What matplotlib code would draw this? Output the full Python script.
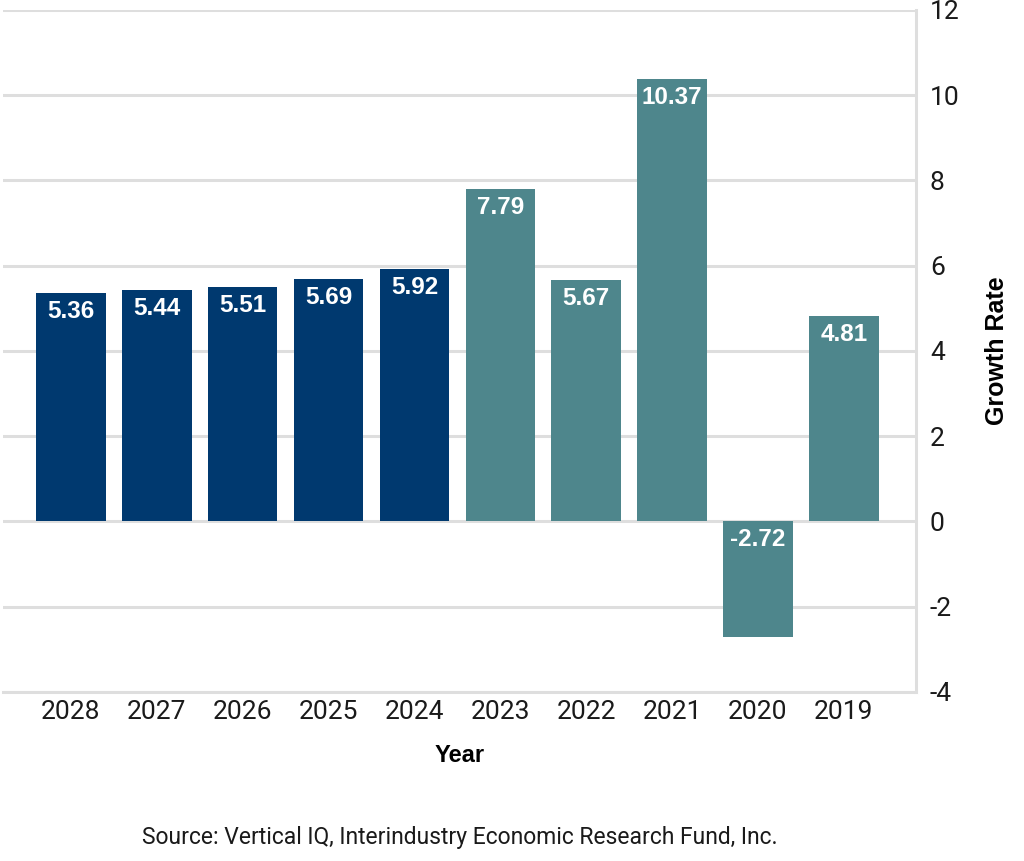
import matplotlib
matplotlib.use('Agg')
import matplotlib.pyplot as plt
from matplotlib import font_manager

# data
years = ['2019', '2020', '2021', '2022', '2023', '2024', '2025', '2026', '2027', '2028']
growth = [4.81, -2.72, 10.37, 5.67, 7.79, 5.92, 5.69, 5.51, 5.44, 5.36]
is_forecast = [False, False, False, False, False, True, True, True, True, True]
yticks = [-4, -2, 0, 2, 4, 6, 8, 10, 12]

teal = '#4e868c'
navy = '#00396f'
grid_col = '#dedede'

names = {f.name for f in font_manager.fontManager.ttflist}
narrow = 'Liberation Sans Narrow' if 'Liberation Sans Narrow' in names else 'Roboto'
plt.rcParams['font.family'] = [narrow, 'DejaVu Sans']

fig = plt.figure(figsize=(10.24, 8.61), dpi=100)
ax = fig.add_axes([0.003, 0.1963, 0.8915, 0.7921])

x = list(range(len(years)))
colors = [navy if f else teal for f in is_forecast]
ax.bar(x, growth, width=0.81, color=colors, zorder=3)

for xi, v in zip(x, growth):
    ax.annotate(f'{v:.2f}', (xi, max(v, 0)), xytext=(0, -5), textcoords='offset points',
                ha='center', va='top', color='white', fontsize=17.5, fontweight='bold',
                family='Liberation Sans', zorder=4)

ax.set_xlim(9.79, -0.84)
ax.set_ylim(-4, 12)
ax.set_xticks(x)
ax.set_xticklabels(years, fontsize=19)
ax.set_yticks(yticks)
ax.set_yticklabels([str(t) for t in yticks], fontsize=19)
ax.yaxis.tick_right()
ax.tick_params(axis='both', length=0, labelcolor='#1a1a1a')
ax.tick_params(axis='y', pad=10)
ax.tick_params(axis='x', pad=6)

ax.grid(axis='y', color=grid_col, linewidth=2.2, zorder=0)
for s in ['top', 'left']:
    ax.spines[s].set_visible(False)
for s in ['right', 'bottom']:
    ax.spines[s].set_color(grid_col)
    ax.spines[s].set_linewidth(2.2)

ax.set_xlabel('Year', fontsize=17, fontweight='bold', family='Liberation Sans', labelpad=14)
ax.yaxis.set_label_position('right')
ax.set_ylabel('Growth Rate', fontsize=18, fontweight='bold', family='Liberation Sans',
              rotation=90, labelpad=18)

fig.text(0.449, 0.027, 'Source: Vertical IQ, Interindustry Economic Research Fund, Inc.',
         ha='center', va='center', fontsize=16.5, color='#1a1a1a')

fig.savefig('out.png', dpi=100)
